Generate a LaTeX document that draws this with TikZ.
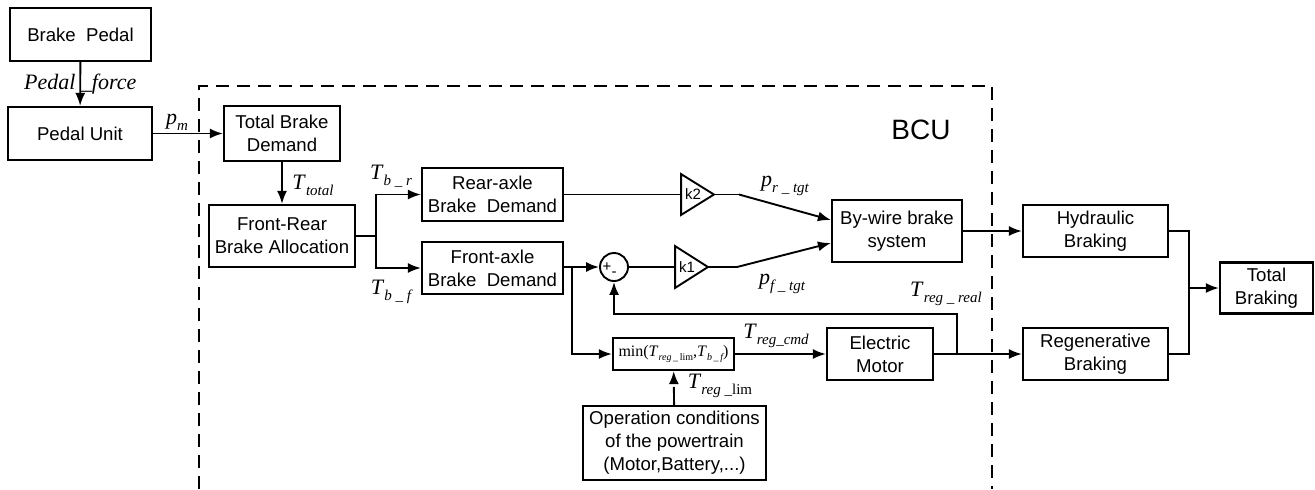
\documentclass[tikz,border=0pt]{standalone}
\usepackage{fontspec}
\setmainfont{Liberation Serif}
\setsansfont{Liberation Sans}
\usetikzlibrary{positioning,arrows.meta,calc}

\newcommand{\sig}[2]{\textit{#1}\raisebox{-0.6ex}{\fontsize{7.5}{8}\selectfont\itshape #2}}

\tikzset{
  >={Latex[length=6.5pt,width=5pt]},
  blk/.style={draw, line width=1.1pt, align=center, inner sep=0pt,
    font=\sffamily\fontsize{9.3}{11.5}\selectfont},
  sym/.style={inner sep=0pt, font=\fontsize{11}{12}\selectfont},
  gain/.style={inner sep=0pt, minimum width=15.5pt, text width=15.5pt, align=left,
    font=\sffamily\fontsize{7.5}{8}\selectfont},
}

\begin{document}
\begin{tikzpicture}[x=0.5pt, y=-0.5pt, line width=0.95pt]
\useasboundingbox (0,0) rectangle (1315,489);

% BCU frame
\draw[dashed, dash pattern=on 6.5pt off 4pt] (199,489) -- (199,86) -- (992,86) -- (992,489);
\node (bcu) at (921,130) [font=\sffamily\fontsize{14}{14}\selectfont] {BCU};

% blocks
\node (pedal) at (80.5,34.5) [blk, minimum width=70.5pt, minimum height=26.5pt] {Brake~~Pedal};
\node (pedalunit) at (80,133.5) [blk, minimum width=72pt, minimum height=26.5pt] {Pedal Unit};
\node (total) at (282,133.5) [blk, minimum width=58pt, minimum height=27.5pt] {Total Brake\\Demand};
\node (alloc) at (282,236) [blk, minimum width=73pt, minimum height=31pt] {Front-Rear\\Brake Allocation};
\node (rear) at (492.5,194.5) [blk, minimum width=70.5pt, minimum height=26.5pt] {Rear-axle\\Brake~~Demand};
\node (front) at (492.5,268) [blk, minimum width=70.5pt, minimum height=26pt] {Front-axle\\Brake~~Demand};
\node (bywire) at (897,231) [blk, minimum width=65pt, minimum height=31pt] {By-wire brake\\system};
\node (motor) at (880,354) [blk, minimum width=53pt, minimum height=26pt] {Electric\\Motor};
\node (opcond) at (674.5,443) [blk, minimum width=91.5pt, minimum height=37pt] {Operation conditions\\of the powertrain\\(Motor,Battery,...)};
\node (hyd) at (1095.5,231) [blk, minimum width=72.5pt, minimum height=26pt] {Hydraulic\\Braking};
\node (regen) at (1095.5,354) [blk, minimum width=72.5pt, minimum height=26pt] {Regenerative\\Braking};
\node (totbrk) at (1266.5,288) [blk, minimum width=46.5pt, minimum height=25.5pt] {Total\\Braking};
\node (minbox) at (673.5,354) [draw, line width=1.1pt, inner sep=0pt, minimum width=60.5pt, minimum height=16pt,
  font=\fontsize{8}{8}\selectfont]
  {min(\textit{T}\raisebox{-0.5ex}{\fontsize{5}{5}\selectfont\textit{reg}\,\_\,lim},\textit{T}\raisebox{-0.5ex}{\fontsize{5}{5}\selectfont\itshape b\,\_\,f})};

% gains and sum
\node (ktwo) at (697.5,194.5) [gain, minimum height=19.5pt] {\hspace*{1.5pt}k2};
\draw (ktwo.north west) -- (ktwo.east) -- (ktwo.south west) -- cycle;
\node (kone) at (691.5,267) [gain, minimum height=20pt] {\hspace*{1.5pt}k1};
\draw (kone.north west) -- (kone.east) -- (kone.south west) -- cycle;
\node (sum) at (614,267) [draw, circle, minimum size=14pt, inner sep=0pt,
  label={[xshift=-3.5pt, font=\sffamily\fontsize{7.5}{7.5}\selectfont]center:+},
  label={[yshift=-3.5pt, font=\sffamily\fontsize{7.5}{7.5}\selectfont]center:-}] {};

% junctions
\coordinate (jalloc) at (376,236);
\coordinate (jfront) at (572,267);
\coordinate (jmotor) at (957,354);
\coordinate (jfb) at (957,314);
\coordinate (jrear) at (739,194.5);
\coordinate (jkone) at (737,267);
\coordinate (jbrk) at (1189,288);

% signals
\draw[->] (pedal) -- (pedalunit)
  node (lblforce) [midway, sym, font=\itshape\fontsize{11}{12}\selectfont] {Pedal \_force};
\draw[->] (pedalunit) -- (total);
\node (lblpm) at (177,122) [sym] {\sig{p}{m}};
\draw[->] (total) -- (alloc);
\node (lblttotal) at (313,185) [sym] {\sig{T}{total}};
\draw (alloc) -- (jalloc);
\draw[->] (jalloc) |- (rear);
\draw[->] (jalloc) |- (front);
\node (lbltbr) at (391,176) [sym] {\sig{T}{b \_ r}};
\node (lbltbf) at (391,292) [sym] {\sig{T}{b \_ f}};

\draw (rear) -- (ktwo);
\draw (ktwo.east) -- (jrear);
\draw[->] (jrear) -- ([yshift=5.5pt]bywire.west);
\node (lblprtgt) at (785,186) [sym] {\sig{p}{r \_ tgt}};

\draw[->] (front.east |- jfront) -- (sum);
\draw (sum) -- (kone);
\draw (kone.east) -- (jkone);
\draw[->] (jkone) -- ([yshift=-6pt]bywire.west);
\node (lblpftgt) at (782,284) [sym] {\sig{p}{f \_ tgt}};

\draw[->] (jfront) |- (minbox);
\draw[->] (minbox) -- (motor);
\node (lbltregcmd) at (776,336) [sym] {\sig{T}{reg\_cmd}};
\draw[->] (motor) -- (regen);
\draw[->] (jmotor) -- (jfb) -| (sum);
\node (lbltregreal) at (946,294) [sym] {\sig{T}{reg \_ real}};
\draw[->, dashed, dash pattern=on 9pt off 2pt] (opcond) -- (minbox);
\node (lbltreglim) at (720,386) [sym] {\textit{T}\raisebox{-0.6ex}{\fontsize{7.5}{8}\selectfont\textit{reg} \_lim}};

\draw[->] (bywire) -- (hyd);
\draw (hyd) -| (jbrk);
\draw (regen) -| (jbrk);
\draw[->] (jbrk) -- (totbrk);
\end{tikzpicture}
\end{document}
